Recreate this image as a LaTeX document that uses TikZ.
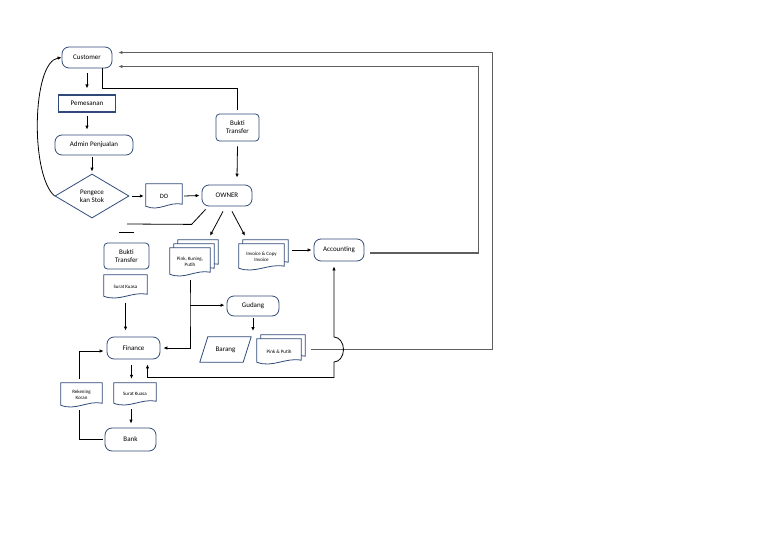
\documentclass[tikz,border=0pt]{standalone}
\usepackage{fontspec}
\setmainfont{Carlito}
\usetikzlibrary{shapes.geometric,calc,arrows.meta}
\pgfdeclarelayer{background}
\pgfsetlayers{background,main}
\definecolor{boxblue}{HTML}{2F4A78}
\definecolor{backgray}{HTML}{5F5F5F}
\def\DocShape#1{
    \filldraw[draw=boxblue, fill=white, line width=0.8pt]
    (#1.north west) -- (#1.north east) -- ($(#1.south east)+(0,-4)$)
    .. controls ($(#1.south east)!0.35!(#1.south west)+(0,-7)$) and ($(#1.south east)!0.65!(#1.south west)+(0,4)$)
    .. ($(#1.south west)+(0,-2)$) -- cycle;
}
\def\ParaShape#1{
    \filldraw[draw=boxblue, fill=white, line width=0.8pt]
    (#1.south west) -- ($(#1.south east)+(-8,0)$) -- (#1.north east) -- ($(#1.north west)+(8,0)$) -- cycle;
}
\begin{document}
\begin{tikzpicture}[x=1pt,y=-1pt,
    >={Latex[length=4pt,width=3.5pt]},
    term/.style={draw=boxblue, line width=0.8pt, rounded corners=7pt, minimum height=21pt, inner sep=1pt, font=\fontsize{7}{8}\selectfont},
    card/.style={draw=boxblue, line width=0.8pt, rounded corners=3.5pt, align=center, inner sep=1pt, font=\fontsize{7}{8}\selectfont},
    doc/.style={inner sep=1pt, align=center, font=\fontsize{5}{6}\selectfont},
    decision/.style={diamond, draw=boxblue, line width=0.8pt, aspect=1.7, inner sep=0pt, minimum width=74pt, minimum height=44pt, align=center, font=\fontsize{7}{8}\selectfont},
    flowline/.style={line width=0.8pt},
    backline/.style={draw=backgray, line width=1.3pt}]
    \useasboundingbox (0,0) rectangle (768,543);

    % top part
    \node[term, minimum width=50pt] (cust) at (87,57.5) {Customer};
    \node[draw=boxblue, line width=1.1pt, minimum width=57pt, minimum height=17pt, inner sep=1pt, font=\fontsize{7}{8}\selectfont] (pesan) at (87,103.5) {Pemesanan};
    \node[term, minimum width=78pt, minimum height=20pt] (admin) at (94,145) {Admin Penjualan};
    \node[decision] (cek) at (92,196) {Pengece\\kan Stok};
    \node[doc, minimum width=36pt, minimum height=24pt, font=\fontsize{6.5}{8}\selectfont] (do) at (164,196) {DO};
    \node[term, minimum width=50pt] (owner) at (227,195.5) {OWNER};
    \node[card, minimum width=43pt, minimum height=27pt] (btA) at (237.5,127.5) {Bukti\\Transfer};

    % middle part
    \node[doc, minimum width=40pt, minimum height=28pt] (pkpC) at (198,254) {};
    \node[doc, minimum width=40pt, minimum height=28pt] (pkpB) at (194,258) {};
    \node[doc, minimum width=40pt, minimum height=28pt] (pkp) at (190,262) {Pink, Kuning,\\Putih};
    \node[doc, minimum width=45pt, minimum height=26pt] (invB) at (265.5,253) {};
    \node[doc, minimum width=45pt, minimum height=26pt] (inv) at (261.5,257) {Invoice \& Copy\\Invoice};
    \node[term, minimum width=50pt, minimum height=22pt] (acc) at (339,250) {Accounting};
    \node[term, minimum width=52pt, minimum height=20pt] (gud) at (253,306) {Gudang};
    \node[doc, minimum width=51pt, minimum height=25pt, font=\fontsize{7}{8}\selectfont] (brg) at (225.5,349.5) {Barang};
    \node[doc, minimum width=44pt, minimum height=25pt] (ppB) at (283,347.5) {};
    \node[doc, minimum width=44pt, minimum height=25pt] (pp) at (279,351.5) {Pink \& Putih};

    % finance part
    \node[card, minimum width=45pt, minimum height=26pt] (btB) at (126.5,256) {Bukti\\Transfer};
    \node[doc, minimum width=43pt, minimum height=23pt] (skA) at (125.5,286.5) {Surat Kuasa};
    \node[term, minimum width=53pt, minimum height=22pt] (fin) at (133.5,348) {Finance};
    \node[doc, minimum width=42pt, minimum height=22pt] (skB) at (135,394) {Surat Kuasa};
    \node[doc, minimum width=41pt, minimum height=24pt] (rk) at (81.5,395) {Rekening\\Koran};
    \node[term, minimum width=51pt, minimum height=23pt] (bank) at (130.5,439.5) {Bank};

    \coordinate (ownL) at (127,224);
    \coordinate (stubL) at (119,232);
    \coordinate (stubR) at (134,232);
    \coordinate (gudOut) at (253,331);

    \begin{pgfonlayer}{background}
        \DocShape{do}
        \DocShape{skA}
        \DocShape{pkpC} \DocShape{pkpB} \DocShape{pkp}
        \DocShape{invB} \DocShape{inv}
        \DocShape{ppB} \DocShape{pp}
        \DocShape{skB}
        \DocShape{rk}
        \ParaShape{brg}
    \end{pgfonlayer}

    \draw[flowline,->] ([yshift=-5pt]cust.south) -- ([yshift=6pt]pesan.north);
    \draw[flowline,->] ([yshift=-3pt]pesan.south) -- ([shift={(-7,-5)}]admin.north);
    \draw[flowline,->] ([shift={(-2,2)}]admin.south) -- ([yshift=2pt]cek.north);
    \draw[flowline,->] ([xshift=3pt]cek.east) -- ([xshift=-2pt]do.west);
    \draw[flowline,->] ([xshift=2pt]do.east) -- ([xshift=-2pt]owner.west);
    \draw[flowline,->] (cek.west) .. controls (30,175) and (32,62) .. (cust.west);
    \draw[flowline] ([xshift=15pt]cust.south) -- ++(0,20) -| ([yshift=4pt]btA.north);
    \draw[flowline,->] ([yshift=-5pt]btA.south) -- ([shift={(10,-7)}]owner.north);
    \draw[flowline] ([shift={(4,3)}]owner.south west) -- ++(-14,15) -- (ownL);
    \draw[flowline] (stubL) -- (stubR);
    \draw[flowline,->] ([shift={(-4,5)}]owner.south) -- ([shift={(20,-12)}]pkp.north);
    \draw[flowline,->] ([shift={(5,5)}]owner.south) -- ([shift={(-16.5,-8)}]inv.north);
    \draw[flowline,->] ([shift={(8,-7)}]inv.east) -- ([xshift=-2pt]acc.west);
    \draw[backline,->] ([shift={(6,3)}]acc.east) -- ++(108,0) |- ([shift={(6,9)}]cust.east);
    \draw[backline,->] ([shift={(10,-2)}]pp.east) -- ++(181,0) |- ([shift={(6,-5)}]cust.east);
    \draw[flowline,->] ([yshift=-4pt]pkp.south) -- ++(0,25) coordinate (brk) |- ([xshift=3pt]fin.east);
    \draw[flowline,->] (brk) -- ([xshift=-2pt]brk -| gud.west);
    \draw[flowline,->] ([yshift=-2pt]gud.south) -- (gudOut);
    \draw[flowline,<->] ([shift={(14,5)}]fin.south) -- ++(0,13) -| ($(pp.east -| acc.south)+(-5,10.5)$)
        arc[start angle=-90, end angle=90, x radius=9.5pt, y radius=12.5pt] -- ([shift={(-5,5)}]acc.south);
    \draw[flowline,->] ([yshift=-5pt]skA.south) -- ([yshift=6pt]skA.south |- fin.north);
    \draw[flowline,->] ([shift={(-2,6)}]fin.south) -- ($(fin.south |- skB.north)+(-2,-4)$);
    \draw[flowline,->] ([shift={(-4,4)}]skB.south) -- ([shift={(0.5,-4)}]bank.north);
    \draw[flowline] ([xshift=-2pt]bank.west) -| ([shift={(-2,3)}]rk.south);
    \draw[flowline,->] ([shift={(-2,-4)}]rk.north) |- ([shift={(-3,3)}]fin.west);
\end{tikzpicture}
\end{document}
